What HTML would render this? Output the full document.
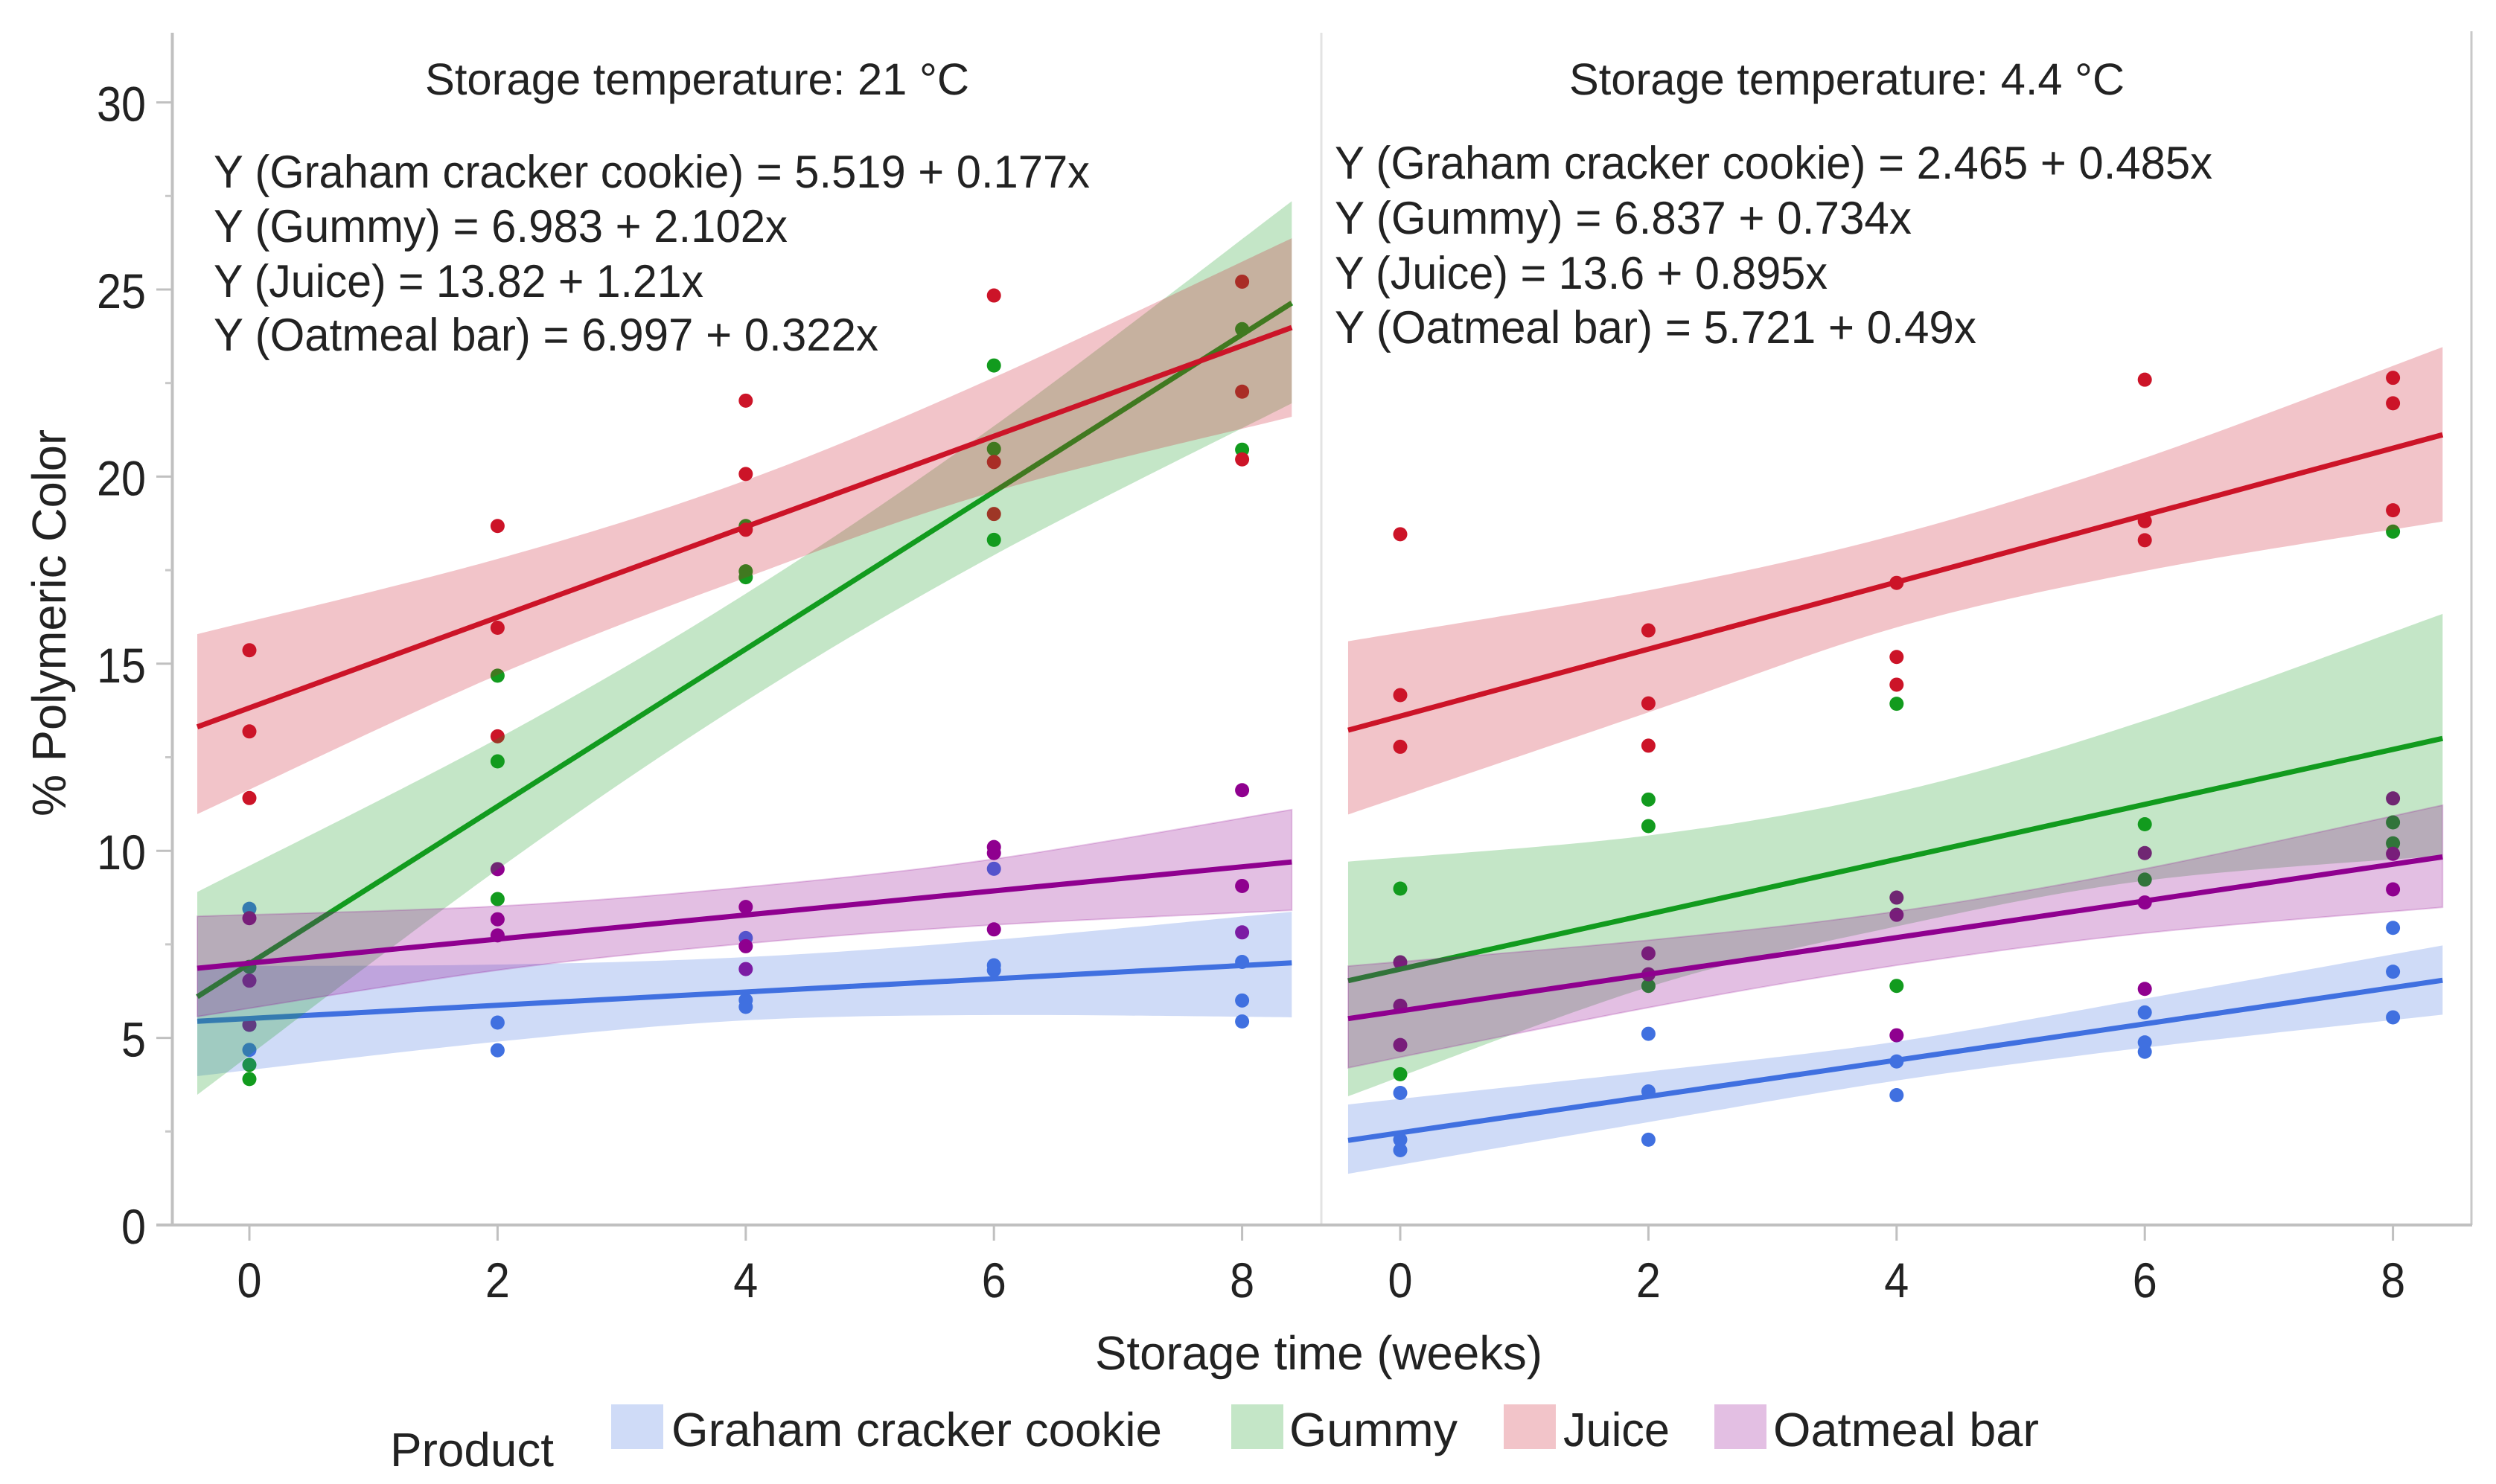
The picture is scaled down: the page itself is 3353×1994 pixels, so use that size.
<!DOCTYPE html>
<html lang="en">
<head>
<meta charset="utf-8">
<title>Polymeric color vs storage time</title>
<style>
html,body{margin:0;padding:0;background:#fff;}
svg{display:block;}
text{font-family:"Liberation Sans",sans-serif;fill:#222;text-rendering:geometricPrecision;}
</style>
</head>
<body>
<svg id="chart" xmlns="http://www.w3.org/2000/svg" width="3353" height="1994" viewBox="0 0 3353 1994">
  <rect width="3353" height="1994" fill="#fff"/>
  <g id="gridlayer">
    <line x1="1775" y1="44" x2="1775" y2="1646" stroke="#e3e3e3" stroke-width="3"/>
    <line x1="3320" y1="42" x2="3320" y2="1646" stroke="#c8c8c8" stroke-width="3"/>
    <line x1="231.5" y1="44" x2="231.5" y2="1648" stroke="#c0c0c0" stroke-width="4"/>
    <line x1="210" y1="1646" x2="3321" y2="1646" stroke="#c0c0c0" stroke-width="4"/>
  </g>
  <g id="ticks"></g>
  <g id="points"></g>
  <g id="fits"></g>

  <text x="571" y="127" font-size="60" textLength="731" lengthAdjust="spacingAndGlyphs">Storage temperature: 21 °C</text>
  <text x="2108" y="127" font-size="60" textLength="746" lengthAdjust="spacingAndGlyphs">Storage temperature: 4.4 °C</text>

  <text x="287" y="252" font-size="62" textLength="1177" lengthAdjust="spacingAndGlyphs">Y (Graham cracker cookie) = 5.519 + 0.177x</text>
  <text x="287" y="325" font-size="62" textLength="771" lengthAdjust="spacingAndGlyphs">Y (Gummy) = 6.983 + 2.102x</text>
  <text x="287" y="399" font-size="62" textLength="658" lengthAdjust="spacingAndGlyphs">Y (Juice) = 13.82 + 1.21x</text>
  <text x="287" y="471" font-size="62" textLength="893" lengthAdjust="spacingAndGlyphs">Y (Oatmeal bar) = 6.997 + 0.322x</text>

  <text x="1793" y="240" font-size="62" textLength="1179" lengthAdjust="spacingAndGlyphs">Y (Graham cracker cookie) = 2.465 + 0.485x</text>
  <text x="1793" y="314" font-size="62" textLength="775" lengthAdjust="spacingAndGlyphs">Y (Gummy) = 6.837 + 0.734x</text>
  <text x="1793" y="388" font-size="62" textLength="662" lengthAdjust="spacingAndGlyphs">Y (Juice) = 13.6 + 0.895x</text>
  <text x="1793" y="461" font-size="62" textLength="862" lengthAdjust="spacingAndGlyphs">Y (Oatmeal bar) = 5.721 + 0.49x</text>

  <text transform="translate(88,1097) rotate(-90)" font-size="64" textLength="520" lengthAdjust="spacingAndGlyphs">% Polymeric Color</text>
  <text x="1471" y="1840" font-size="64" textLength="601" lengthAdjust="spacingAndGlyphs">Storage time (weeks)</text>

  <g>
    <text x="524" y="1970" font-size="64" textLength="220" lengthAdjust="spacingAndGlyphs">Product</text>
    <rect x="821" y="1887" width="70" height="60" fill="#4070e0" fill-opacity="0.25"/>
    <text x="902" y="1943" font-size="64" textLength="659" lengthAdjust="spacingAndGlyphs">Graham cracker cookie</text>
    <rect x="1654" y="1887" width="70" height="60" fill="#129b1e" fill-opacity="0.25"/>
    <text x="1732" y="1943" font-size="64" textLength="226" lengthAdjust="spacingAndGlyphs">Gummy</text>
    <rect x="2020" y="1887" width="70" height="60" fill="#cc1428" fill-opacity="0.25"/>
    <text x="2100" y="1943" font-size="64" textLength="143" lengthAdjust="spacingAndGlyphs">Juice</text>
    <rect x="2303" y="1887" width="70" height="60" fill="#8f008f" fill-opacity="0.25"/>
    <text x="2382" y="1943" font-size="64" textLength="357" lengthAdjust="spacingAndGlyphs">Oatmeal bar</text>
  </g>
</svg>
<script>
// ---------- tick labels ----------
const yTickLabels = ["0", "5", "10", "15", "20", "25", "30"];
const yMinorTicks = [2.5, 7.5, 12.5, 17.5, 22.5, 27.5];
const xTickLabels = ["0", "2", "4", "6", "8"];

// ---------- categories ----------
const seriesNames = ["graham", "gummy", "juice", "oatmeal"];
const panelNames = ["21c", "4c"];
const bandWeeks = [-0.42, 2, 4, 6, 8.4];
const lineWeeks = [-0.42, 8.4];

// ---------- fit equations ----------
const intercept21 = [5.519, 6.983, 13.82, 6.997];
const slope21 = [0.177, 2.102, 1.21, 0.322];
const intercept4 = [2.465, 6.837, 13.6, 5.721];
const slope4 = [0.485, 0.734, 0.895, 0.49];

// ---------- confidence bands, panel 21 C ----------
const grahamUpper21 = [6.92, 6.96, 7.16, 7.62, 8.37];
const grahamLower21 = [3.98, 4.9, 5.47, 5.61, 5.55];
const gummyUpper21 = [8.9, 13.0, 16.87, 21.35, 27.36];
const gummyLower21 = [3.48, 9.5, 14.0, 17.9, 21.96];
const juiceUpper21 = [15.79, 17.8, 19.9, 22.65, 26.37];
const juiceLower21 = [10.98, 14.7, 17.3, 19.6, 21.6];
const oatmealUpper21 = [8.25, 8.52, 9.03, 9.78, 11.1];
const oatmealLower21 = [5.57, 6.81, 7.52, 8.02, 8.41];

// ---------- confidence bands, panel 4.4 C ----------
const grahamUpper4 = [3.22, 4.1, 4.9, 6.05, 7.47];
const grahamLower4 = [1.37, 2.75, 3.86, 4.74, 5.62];
const gummyUpper4 = [9.71, 10.41, 11.57, 13.48, 16.33];
const gummyLower4 = [3.44, 6.36, 7.98, 9.2, 9.87];
const juiceUpper4 = [15.6, 16.96, 18.45, 20.5, 23.46];
const juiceLower4 = [10.97, 13.7, 15.97, 17.48, 18.8];
const oatmealUpper4 = [6.92, 7.61, 8.38, 9.52, 11.22];
const oatmealLower4 = [4.2, 5.81, 6.94, 7.8, 8.49];

// ---------- observations: [week, value] ----------
const grahamObs21 = [[0,8.45],[0,5.35],[0,4.68],[2,5.41],[2,4.67],[4,7.67],[4,6.01],[4,5.83],[6,9.52],[6,6.94],[6,6.81],[8,7.03],[8,6.0],[8,5.44]];
const gummyObs21 = [[0,6.9],[0,4.28],[0,3.9],[2,14.68],[2,12.39],[2,8.71],[4,18.68],[4,17.47],[4,17.31],[6,22.97],[6,20.74],[6,18.31],[8,23.94],[8,20.72]];
const juiceObs21 = [[0,15.36],[0,13.19],[0,11.41],[2,18.68],[2,15.96],[2,13.06],[4,22.03],[4,20.07],[4,18.58],[6,24.84],[6,20.39],[6,19.0],[8,25.21],[8,22.27],[8,20.46]];
const oatmealObs21 = [[0,8.2],[0,6.53],[0,5.35],[2,9.51],[2,8.17],[2,7.74],[4,8.5],[4,7.45],[4,6.84],[6,10.1],[6,9.94],[6,7.9],[8,11.62],[8,9.06],[8,7.82]];

const grahamObs4 = [[0,3.53],[0,2.28],[0,2.0],[2,5.11],[2,3.57],[2,2.28],[4,4.37],[4,3.47],[6,5.68],[6,4.88],[6,4.63],[8,7.94],[8,6.77],[8,5.55]];
const gummyObs4 = [[0,8.99],[0,4.03],[2,11.37],[2,10.66],[2,6.39],[4,13.93],[4,6.39],[6,10.71],[6,9.23],[8,18.53],[8,10.76],[8,10.2]];
const juiceObs4 = [[0,18.46],[0,14.16],[0,12.78],[2,15.89],[2,13.94],[2,12.81],[4,17.16],[4,15.18],[4,14.44],[6,22.59],[6,18.81],[6,18.3],[8,22.64],[8,21.96],[8,19.1]];
const oatmealObs4 = [[0,7.02],[0,5.86],[0,4.81],[2,7.26],[2,6.7],[4,8.75],[4,8.29],[4,5.07],[6,9.94],[6,8.62],[6,6.31],[8,11.4],[8,9.92],[8,8.97]];

// ---------- style ----------
const seriesColors = ["#4070e0", "#129b1e", "#cc1428", "#8f008f"];

// ---------- axis functions ----------
function yScale(v) { return 1646 - v * 50.28; }
function xScale(panel, w) { return (panel === 0 ? 335 : 1881) + w * 166.7; }

const NS = "http://www.w3.org/2000/svg";
function make(tag, attrs, parent) {
  const el = document.createElementNS(NS, tag);
  for (const k in attrs) el.setAttribute(k, attrs[k]);
  parent.appendChild(el);
  return el;
}

// ---------- ticks ----------
const tickLayer = document.getElementById("ticks");
yTickLabels.forEach(function (label) {
  const v = Number(label);
  const tick = make("line", {x1: 210, x2: 231, y1: yScale(v), y2: yScale(v), stroke: "#c0c0c0", "stroke-width": 3}, tickLayer);
  
  
  const t = make("text", {x: 196, y: yScale(v) + 25, "text-anchor": "end", "font-size": 66, textLength: label.length * 33, lengthAdjust: "spacingAndGlyphs"}, tickLayer);
  t.textContent = label;
  
  
});
yMinorTicks.forEach(function (v) {
  const tick = make("line", {x1: 222, x2: 231, y1: yScale(v), y2: yScale(v), stroke: "#c8c8c8", "stroke-width": 3}, tickLayer);
  
  
});
[0, 1].forEach(function (p) {
  xTickLabels.forEach(function (label) {
    const w = Number(label);
    const tick = make("line", {x1: xScale(p, w), x2: xScale(p, w), y1: 1647, y2: 1667, stroke: "#c0c0c0", "stroke-width": 3}, tickLayer);
    
    
    const t = make("text", {x: xScale(p, w), y: 1743, "text-anchor": "middle", "font-size": 66, textLength: 33, lengthAdjust: "spacingAndGlyphs"}, tickLayer);
    t.textContent = label;
    
    
  });
});

// ---------- marks ----------
const observations = [
  [grahamObs21, gummyObs21, juiceObs21, oatmealObs21],
  [grahamObs4, gummyObs4, juiceObs4, oatmealObs4]
];
const uppers = [
  [grahamUpper21, gummyUpper21, juiceUpper21, oatmealUpper21],
  [grahamUpper4, gummyUpper4, juiceUpper4, oatmealUpper4]
];
const lowers = [
  [grahamLower21, gummyLower21, juiceLower21, oatmealLower21],
  [grahamLower4, gummyLower4, juiceLower4, oatmealLower4]
];
const intercepts = [intercept21, intercept4];
const slopes = [slope21, slope4];

function smooth(pts, move) {
  let d = (move ? "M" : "L") + pts[0][0] + " " + pts[0][1];
  for (let i = 0; i < pts.length - 1; i++) {
    const p0 = pts[Math.max(i - 1, 0)], p1 = pts[i], p2 = pts[i + 1], p3 = pts[Math.min(i + 2, pts.length - 1)];
    const c1x = p1[0] + (p2[0] - p0[0]) / 6, c1y = p1[1] + (p2[1] - p0[1]) / 6;
    const c2x = p2[0] - (p3[0] - p1[0]) / 6, c2y = p2[1] - (p3[1] - p1[1]) / 6;
    d += "C" + c1x + " " + c1y + " " + c2x + " " + c2y + " " + p2[0] + " " + p2[1];
  }
  return d;
}

const pointLayer = document.getElementById("points");
const fitLayer = document.getElementById("fits");
[0, 1].forEach(function (p) {
  seriesNames.forEach(function (name, s) {
    observations[p][s].forEach(function (o) {
      const c = make("circle", {cx: xScale(p, o[0]), cy: yScale(o[1]), r: 9.5, fill: seriesColors[s]}, pointLayer);
      
      
    });
  });
  seriesNames.forEach(function (name, s) {
    const up = bandWeeks.map(function (w, i) { return [xScale(p, w), yScale(uppers[p][s][i])]; });
    const lo = bandWeeks.map(function (w, i) { return [xScale(p, w), yScale(lowers[p][s][i])]; }).reverse();
    const band = make("path", {
      d: smooth(up, true) + smooth(lo, false) + "Z",
      fill: seriesColors[s], "fill-opacity": 0.25,
      stroke: s === 3 ? seriesColors[s] : "none", "stroke-opacity": 0.2, "stroke-width": 2
    }, fitLayer);
    
    
    const line = make("line", {
      x1: xScale(p, lineWeeks[0]), y1: yScale(intercepts[p][s] + slopes[p][s] * lineWeeks[0]),
      x2: xScale(p, lineWeeks[1]), y2: yScale(intercepts[p][s] + slopes[p][s] * lineWeeks[1]),
      stroke: seriesColors[s], "stroke-width": 7
    }, fitLayer);
    
    
  });
});
</script>
</body>
</html>
